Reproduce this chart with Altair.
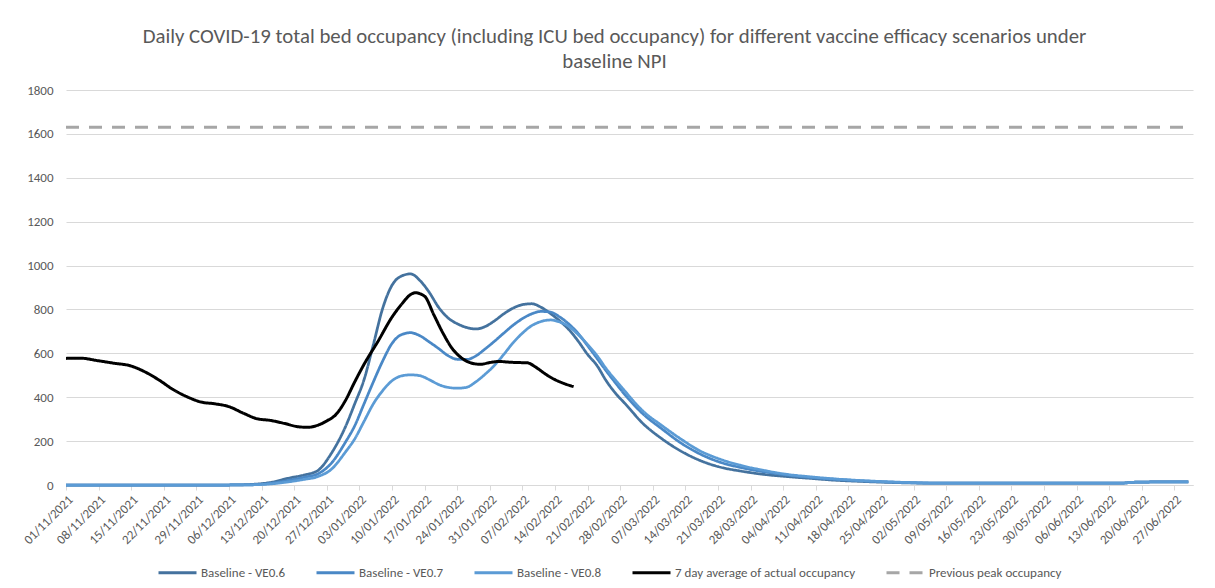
import altair as alt
import pandas as pd

FONT = "Carlito, Lato, sans-serif"
START = pd.Timestamp("2021-11-01")

# ---- data (day offset from 01/11/2021) ----
model_day = [0, 35, 40, 44, 48, 51, 54, 57,
             60, 62, 64, 66, 68, 70, 72, 74, 76, 78,
             80, 82, 84, 86, 88, 90, 92, 94, 96, 98,
             100, 102, 104, 106, 108, 110, 112, 114, 116, 118,
             120, 124, 128, 132, 136, 140, 145, 150, 155, 160,
             165, 170, 175, 180, 190, 200, 210, 220, 226, 230,
             236, 241]
ve06 = [0, 0, 3, 12, 32, 45, 65, 145,
        265, 370, 480, 640, 805, 910, 952, 962, 932, 878,
        810, 762, 735, 718, 711, 722, 748, 780, 806, 822,
        826, 810, 782, 748, 708, 655, 595, 545, 475, 418,
        372, 278, 210, 155, 113, 84, 63, 48, 38, 30,
        22, 17, 13, 10, 8, 8, 8, 8, 8, 13,
        14, 14]
ve07 = [0, 0, 1, 8, 22, 35, 50, 100,
        195, 270, 370, 470, 565, 645, 685, 694, 680, 652,
        622, 590, 573, 572, 588, 620, 655, 692, 728, 758,
        780, 791, 788, 766, 733, 690, 635, 578, 520, 465,
        412, 322, 255, 192, 143, 107, 79, 60, 45, 34,
        26, 20, 15, 11, 8, 8, 8, 8, 8, 13,
        14, 14]
ve08 = [0, 0, 1, 5, 15, 25, 38, 72,
        150, 210, 290, 370, 430, 475, 497, 502, 498, 480,
        458, 445, 441, 445, 470, 505, 545, 595, 648, 692,
        726, 745, 752, 743, 722, 685, 640, 590, 530, 478,
        428, 335, 270, 210, 157, 121, 89, 66, 48, 37,
        28, 21, 16, 12, 8, 8, 8, 8, 8, 13,
        14, 14]

actual_day = [0, 3, 7, 10, 14, 17, 20, 23, 26, 29,
              32, 35, 38, 41, 44, 47, 50, 52, 54, 56,
              58, 60, 62, 64, 67, 70, 72, 74, 75, 77,
              79, 81, 83, 85, 87, 89, 91, 93, 95, 97,
              99, 101, 103, 105, 107, 109]
actual = [577, 578, 566, 556, 542, 515, 478, 435, 402, 378,
          370, 357, 328, 302, 294, 280, 265, 263, 272, 292,
          322, 385, 470, 550, 655, 765, 822, 868, 876, 860,
          775, 690, 620, 578, 556, 550, 558, 563, 560, 558,
          557, 535, 505, 480, 462, 448]

peak_day = [0, 241]
previous_peak = 1630

series_names = ["Baseline - VE0.6", "Baseline - VE0.7", "Baseline - VE0.8",
                "7 day average of actual occupancy", "Previous peak occupancy"]
series_colors = ["#44729E", "#4A88C6", "#5B9BD5", "#000000", "#A6A6A6"]
series_dash = [[1, 0], [1, 0], [1, 0], [1, 0], [13, 10]]

tick_day = list(range(0, 239, 7))
y_ticks = list(range(0, 1801, 200))

title_lines = ["Daily COVID-19 total bed occupancy (including ICU bed occupancy) for different vaccine efficacy scenarios under",
               "baseline NPI"]


def to_date(d):
    return (START + pd.Timedelta(days=d)).strftime("%Y-%m-%d")


def frame(days, values, name):
    return pd.DataFrame({"date": [to_date(d) for d in days],
                         "value": values,
                         "series": name})


model_df = pd.concat([frame(model_day, ve06, series_names[0]),
                      frame(model_day, ve07, series_names[1]),
                      frame(model_day, ve08, series_names[2])])
actual_df = frame(actual_day, actual, series_names[3])
peak_df = frame(peak_day, [previous_peak] * len(peak_day), series_names[4])


def dt(d):
    t = START + pd.Timedelta(days=d)
    return alt.DateTime(year=t.year, month=t.month, date=t.day, utc=True)


legend = alt.Legend(orient="none", legendX=91, legendY=462, direction="horizontal",
                    title=None, symbolType="stroke", symbolSize=1444, symbolStrokeWidth=3,
                    labelFontSize=13, labelColor="#595959", labelFont=FONT,
                    columnPadding=24, labelOffset=3, padding=0, labelLimit=400)

x_enc = alt.X("date:T",
              scale=alt.Scale(type="utc", domain=[dt(0), dt(242)]),
              axis=alt.Axis(values=[dt(d) for d in tick_day], format="%d/%m/%Y",
                            labelAngle=-45, labelAlign="right", labelBaseline="top",
                            labelFontSize=13, labelColor="#595959", labelFont=FONT,
                            tickSize=5, tickColor="#D9D9D9", domainColor="#D9D9D9",
                            labelPadding=3, grid=False, title=None, labelOverlap=False))
y_enc = alt.Y("value:Q",
              scale=alt.Scale(domain=[0, 1800], nice=False),
              axis=alt.Axis(values=y_ticks, format="d", labelFontSize=13, labelColor="#595959",
                            labelFont=FONT, ticks=False, domain=False, labelPadding=13,
                            gridColor="#D9D9D9", title=None))
color_enc = alt.Color("series:N", scale=alt.Scale(domain=series_names, range=series_colors),
                      legend=legend)
dash_enc = alt.StrokeDash("series:N", scale=alt.Scale(domain=series_names, range=series_dash),
                          legend=legend)


def line_layer(df, width):
    return alt.Chart(df).mark_line(interpolate="monotone", strokeWidth=width).encode(
        x=x_enc, y=y_enc, color=color_enc, strokeDash=dash_enc, detail="series:N")


chart = alt.layer(
    line_layer(peak_df, 3),
    line_layer(model_df, 2.75),
    line_layer(actual_df, 3),
).properties(
    width=1127, height=395,
    autosize=alt.AutoSizeParams(type="none"),
    padding={"left": 58, "top": 82, "right": 14, "bottom": 103},
    title=alt.TitleParams(text=title_lines, fontSize=20.8, font=FONT, color="#595959",
                          fontWeight="normal", anchor="middle", dx=-15, offset=11,
                          lineHeight=25),
).configure_view(stroke=None)

chart.save("out.html", embed_options={"renderer": "svg", "actions": False})
